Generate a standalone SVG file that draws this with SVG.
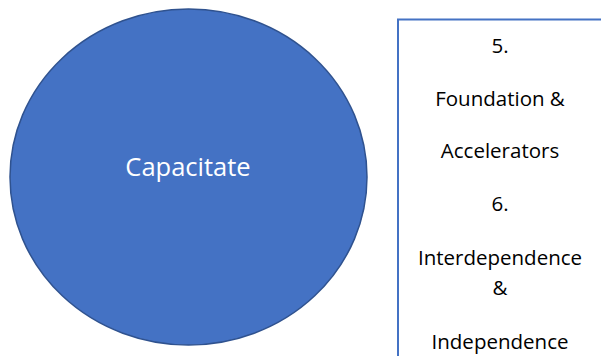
<svg xmlns="http://www.w3.org/2000/svg" width="601" height="356" viewBox="0 0 601 356">
<style>
.t{font-family:"Open Sans","Liberation Sans",sans-serif;font-size:20.5px;fill:#000;text-anchor:middle}
.c{font-family:"Open Sans","Liberation Sans",sans-serif;font-size:25.5px;fill:#fff;text-anchor:middle}
</style>
<rect width="601" height="356" fill="#fff"/>
<g id="capacitate">
<ellipse cx="188.5" cy="177" rx="178.5" ry="168" fill="#4472C4" stroke="#2F528F" stroke-width="1.5"/>
<text class="c" x="188" y="176">Capacitate</text>
</g>
<g id="textbox">
<rect x="398" y="19.5" width="220" height="360" fill="#fff" stroke="#4472C4" stroke-width="2"/>
<text class="t" x="500" y="53">5.</text>
<text class="t" x="500" y="106">Foundation &amp;</text>
<text class="t" x="500" y="158">Accelerators</text>
<text class="t" x="500" y="211">6.</text>
<text class="t" x="500" y="265">Interdependence</text>
<text class="t" x="500" y="295">&amp;</text>
<text class="t" x="500" y="349">Independence</text>
</g>
<g id="connectors"/>
</svg>
